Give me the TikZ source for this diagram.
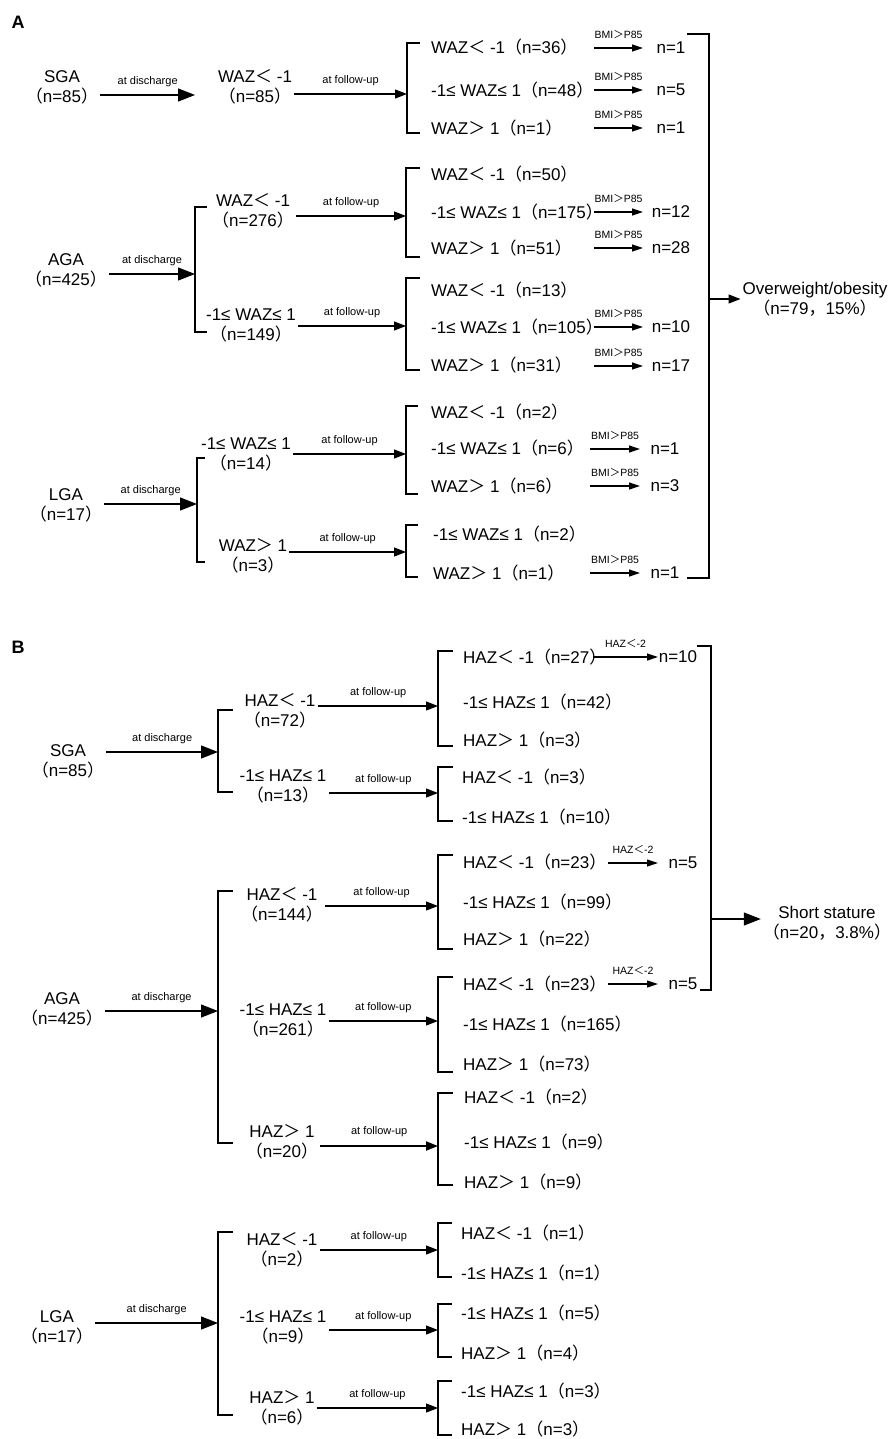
\documentclass[tikz,border=0pt]{standalone}
\usepackage{fontspec}
\setmainfont{Liberation Sans}
\newfontfamily\cjk{Noto Sans CJK SC}
\usetikzlibrary{arrows.meta}
\newcommand{\fwlp}{{\cjk （}}
\newcommand{\fwrp}{{\cjk ）}}
\newcommand{\fwlt}{{\cjk ＜}}
\newcommand{\fwgt}{{\cjk ＞}}
\newcommand{\fwcm}{{\cjk ，}}

\begin{document}
\begin{tikzpicture}[x=1pt,y=-1pt,
    txt/.style={font=\fontsize{17}{20}\selectfont,inner sep=2pt},
    grp/.style={txt,align=center},
    item/.style={txt,anchor=west},
    lab/.style={font=\fontsize{11}{13}\selectfont,inner sep=1pt,above=7pt},
    tiny/.style={font=\fontsize{10.5}{12}\selectfont,inner sep=1pt,above=8pt},
    dis/.style={line width=1.2pt,-{Triangle[length=17pt,width=13pt]}},
    fu/.style={line width=1.2pt,-{Triangle[length=12pt,width=9pt]}},
    sm/.style={line width=1.2pt,-{Triangle[length=11pt,width=7pt]}},
    br/.style={line width=1.2pt}]

        \useasboundingbox (0,0) rectangle (893,1439);

        % Columns
        \coordinate (bmiL) at (594,0);
        \coordinate (bmiR) at (643,0);
        \coordinate (bmiL2) at (590,0);
        \coordinate (bmiR2) at (640,0);
        \coordinate (hzL) at (593,0);
        \coordinate (hzM) at (608,0);
        \coordinate (hzR) at (658,0);

        % Panel A
        \node[font=\fontsize{18}{20}\selectfont\bfseries] (tagA) at (18,22) {A};

        % SGA
        \node[grp] (sgaA) at (62,87) {SGA\\\fwlp n=85\fwrp};
        \coordinate (dA1) at (195,95);
        \draw[dis] (sgaA.east |- dA1) -- node[lab] (ldA1) {at discharge} (dA1);
        \node[grp] (wazA1) at (255,87) {WAZ\fwlt{} -1\\\fwlp n=85\fwrp};
        \coordinate (bA1) at (407,94);
        \draw[fu] (wazA1.east |- bA1) -- node[lab] (lfA1) {at follow-up} (bA1);
        \draw[br] (420,43) -- (407,43) -- (407,133) -- (420,133);
        \node[item] (a11) at (429,47) {WAZ\fwlt{} -1\fwlp n=36\fwrp};
        \node[item] (a12) at (429,90) {-1≤ WAZ≤ 1\fwlp n=48\fwrp};
        \node[item] (a13) at (429,128) {WAZ\fwgt{} 1\fwlp n=1\fwrp};
        \node[txt] (nA11) at (671,48) {n=1};
        \node[txt] (nA12) at (671,90) {n=5};
        \node[txt] (nA13) at (671,128) {n=1};
        \draw[sm] (nA11 -| bmiL) -- node[tiny] (pA11) {BMI\fwgt P85} (nA11 -| bmiR);
        \draw[sm] (nA12 -| bmiL) -- node[tiny] (pA12) {BMI\fwgt P85} (nA12 -| bmiR);
        \draw[sm] (nA13 -| bmiL) -- node[tiny] (pA13) {BMI\fwgt P85} (nA13 -| bmiR);

        % AGA
        \node[grp] (agaA) at (66,270) {AGA\\\fwlp n=425\fwrp};
        \coordinate (dA2) at (195,274);
        \draw[dis] (agaA.east |- dA2) -- node[lab] (ldA2) {at discharge} (dA2);
        \draw[br] (207,207) -- (195,207) -- (195,332) -- (207,332);
        \node[grp] (wazA2) at (253,211) {WAZ\fwlt{} -1\\\fwlp n=276\fwrp};
        \coordinate (bA2) at (406,216);
        \draw[fu] (wazA2.east |- bA2) -- node[lab] (lfA2) {at follow-up} (bA2);
        \draw[br] (420,168) -- (406,168) -- (406,257) -- (420,257);
        \node[item] (a21) at (429,174) {WAZ\fwlt{} -1\fwlp n=50\fwrp};
        \node[item] (a22) at (429,212) {-1≤ WAZ≤ 1\fwlp n=175\fwrp};
        \node[item] (a23) at (429,248) {WAZ\fwgt{} 1\fwlp n=51\fwrp};
        \node[txt] (nA22) at (671,212) {n=12};
        \node[txt] (nA23) at (671,248) {n=28};
        \draw[sm] (nA22 -| bmiL) -- node[tiny] (pA22) {BMI\fwgt P85} (nA22 -| bmiR);
        \draw[sm] (nA23 -| bmiL) -- node[tiny] (pA23) {BMI\fwgt P85} (nA23 -| bmiR);

        \node[grp] (wazA3) at (251,325) {-1≤ WAZ≤ 1\\\fwlp n=149\fwrp};
        \coordinate (bA3) at (406,326);
        \draw[fu] (wazA3.east |- bA3) -- node[lab] (lfA3) {at follow-up} (bA3);
        \draw[br] (420,278) -- (406,278) -- (406,370) -- (420,370);
        \node[item] (a31) at (429,290) {WAZ\fwlt{} -1\fwlp n=13\fwrp};
        \node[item] (a32) at (429,327) {-1≤ WAZ≤ 1\fwlp n=105\fwrp};
        \node[item] (a33) at (429,365) {WAZ\fwgt{} 1\fwlp n=31\fwrp};
        \node[txt] (nA32) at (671,327) {n=10};
        \node[txt] (nA33) at (671,366) {n=17};
        \draw[sm] (nA32 -| bmiL) -- node[tiny] (pA32) {BMI\fwgt P85} (nA32 -| bmiR);
        \draw[sm] (nA33 -| bmiL) -- node[tiny] (pA33) {BMI\fwgt P85} (nA33 -| bmiR);

        % LGA
        \node[grp] (lgaA) at (66,505) {LGA\\\fwlp n=17\fwrp};
        \coordinate (dA3) at (197,504);
        \draw[dis] (lgaA.east |- dA3) -- node[lab] (ldA3) {at discharge} (dA3);
        \draw[br] (205,458) -- (197,458) -- (197,562) -- (205,562);
        \node[grp] (wazA4) at (246,454) {-1≤ WAZ≤ 1\\\fwlp n=14\fwrp};
        \coordinate (bA4) at (406,454);
        \draw[fu] (wazA4.east |- bA4) -- node[lab] (lfA4) {at follow-up} (bA4);
        \draw[br] (418,406) -- (406,406) -- (406,494) -- (418,494);
        \node[item] (a41) at (429,412) {WAZ\fwlt{} -1\fwlp n=2\fwrp};
        \node[item] (a42) at (429,448) {-1≤ WAZ≤ 1\fwlp n=6\fwrp};
        \node[item] (a43) at (429,486) {WAZ\fwgt{} 1\fwlp n=6\fwrp};
        \node[txt] (nA42) at (665,449) {n=1};
        \node[txt] (nA43) at (665,486) {n=3};
        \draw[sm] (nA42 -| bmiL2) -- node[tiny] (pA42) {BMI\fwgt P85} (nA42 -| bmiR2);
        \draw[sm] (nA43 -| bmiL2) -- node[tiny] (pA43) {BMI\fwgt P85} (nA43 -| bmiR2);

        \node[grp] (wazA5) at (253,556) {WAZ\fwgt{} 1\\\fwlp n=3\fwrp};
        \coordinate (bA5) at (406,552);
        \draw[fu] (wazA5.east |- bA5) -- node[lab] (lfA5) {at follow-up} (bA5);
        \draw[br] (418,525) -- (406,525) -- (406,577) -- (418,577);
        \node[item] (a51) at (431,534) {-1≤ WAZ≤ 1\fwlp n=2\fwrp};
        \node[item] (a52) at (431,573) {WAZ\fwgt{} 1\fwlp n=1\fwrp};
        \node[txt] (nA52) at (665,573) {n=1};
        \draw[sm] (nA52 -| bmiL2) -- node[tiny] (pA52) {BMI\fwgt P85} (nA52 -| bmiR2);

        % Overweight/obesity
        \draw[br] (687,34) -- (709,34) -- (709,578) -- (687,578);
        \coordinate (bigA) at (709,299);
        \node[grp] (ow) at (815,299) {Overweight/obesity\\\fwlp n=79\fwcm 15\%\fwrp};
        \draw[fu] (bigA) -- (ow.west |- bigA);

        % Panel B
        \node[font=\fontsize{18}{20}\selectfont\bfseries] (tagB) at (18,647) {B};

        % SGA
        \node[grp] (sgaB) at (68,761) {SGA\\\fwlp n=85\fwrp};
        \coordinate (dB1) at (218,752);
        \draw[dis] (sgaB.east |- dB1) -- node[lab] (ldB1) {at discharge} (dB1);
        \draw[br] (233,710) -- (218,710) -- (218,792) -- (233,792);
        \node[grp] (hB1) at (280,711) {HAZ\fwlt{} -1\\\fwlp n=72\fwrp};
        \coordinate (bB1) at (438,706);
        \draw[fu] (hB1.east |- bB1) -- node[lab] (lfB1) {at follow-up} (bB1);
        \node[grp] (hB2) at (283,786) {-1≤ HAZ≤ 1\\\fwlp n=13\fwrp};
        \coordinate (bB2) at (438,793);
        \draw[fu] (hB2.east |- bB2) -- node[lab] (lfB2) {at follow-up} (bB2);
        \draw[br] (453,651) -- (438,651) -- (438,746) -- (453,746);
        \node[item] (b11) at (461,657) {HAZ\fwlt{} -1\fwlp n=27\fwrp};
        \node[item] (b12) at (461,702) {-1≤ HAZ≤ 1\fwlp n=42\fwrp};
        \node[item] (b13) at (461,740) {HAZ\fwgt{} 1\fwlp n=3\fwrp};
        \node[txt] (nB11) at (678,657) {n=10};
        \draw[sm] (nB11 -| hzL) -- node[tiny] (qB11) {HAZ\fwlt-2} (nB11 -| hzR);
        \draw[br] (453,767) -- (438,767) -- (438,821) -- (453,821);
        \node[item] (b21) at (460,777) {HAZ\fwlt{} -1\fwlp n=3\fwrp};
        \node[item] (b22) at (460,817) {-1≤ HAZ≤ 1\fwlp n=10\fwrp};

        % AGA
        \node[grp] (agaB) at (62,1009) {AGA\\\fwlp n=425\fwrp};
        \coordinate (dB2) at (218,1011);
        \draw[dis] (agaB.east |- dB2) -- node[lab] (ldB2) {at discharge} (dB2);
        \draw[br] (233,891) -- (218,891) -- (218,1143) -- (233,1143);
        \node[grp] (hB3) at (282,905) {HAZ\fwlt{} -1\\\fwlp n=144\fwrp};
        \coordinate (bB3) at (438,906);
        \draw[fu] (hB3.east |- bB3) -- node[lab] (lfB3) {at follow-up} (bB3);
        \node[grp] (hB4) at (283,1020) {-1≤ HAZ≤ 1\\\fwlp n=261\fwrp};
        \coordinate (bB4) at (438,1021);
        \draw[fu] (hB4.east |- bB4) -- node[lab] (lfB4) {at follow-up} (bB4);
        \node[grp] (hB5) at (282,1142) {HAZ\fwgt{} 1\\\fwlp n=20\fwrp};
        \coordinate (bB5) at (438,1146);
        \draw[fu,line width=2pt] (hB5.east |- bB5) -- node[lab] (lfB5) {at follow-up} (bB5);

        \draw[br] (453,855) -- (438,855) -- (438,949) -- (453,949);
        \node[item] (c11) at (461,862) {HAZ\fwlt{} -1\fwlp n=23\fwrp};
        \node[item] (c12) at (461,902) {-1≤ HAZ≤ 1\fwlp n=99\fwrp};
        \node[item] (c13) at (461,939) {HAZ\fwgt{} 1\fwlp n=22\fwrp};
        \node[txt] (nC11) at (683,863) {n=5};
        \draw[sm] (nC11 -| hzM) -- node[tiny] (qC11) {HAZ\fwlt-2} (nC11 -| hzR);
        \draw[br] (453,977) -- (438,977) -- (438,1072) -- (453,1072);
        \node[item] (c21) at (461,984) {HAZ\fwlt{} -1\fwlp n=23\fwrp};
        \node[item] (c22) at (461,1024) {-1≤ HAZ≤ 1\fwlp n=165\fwrp};
        \node[item] (c23) at (461,1064) {HAZ\fwgt{} 1\fwlp n=73\fwrp};
        \node[txt] (nC21) at (683,984) {n=5};
        \draw[sm] (nC21 -| hzM) -- node[tiny] (qC21) {HAZ\fwlt-2} (nC21 -| hzR);
        \draw[br] (453,1093) -- (438,1093) -- (438,1185) -- (453,1185);
        \node[item] (c31) at (462,1097) {HAZ\fwlt{} -1\fwlp n=2\fwrp};
        \node[item] (c32) at (462,1142) {-1≤ HAZ≤ 1\fwlp n=9\fwrp};
        \node[item] (c33) at (462,1182) {HAZ\fwgt{} 1\fwlp n=9\fwrp};

        % LGA
        \node[grp] (lgaB) at (57,1327) {LGA\\\fwlp n=17\fwrp};
        \coordinate (dB3) at (218,1323);
        \draw[dis] (lgaB.east |- dB3) -- node[lab] (ldB3) {at discharge} (dB3);
        \draw[br] (233,1232) -- (218,1232) -- (218,1415) -- (233,1415);
        \node[grp] (hB6) at (282,1250) {HAZ\fwlt{} -1\\\fwlp n=2\fwrp};
        \coordinate (bB6) at (438,1250);
        \draw[fu] (hB6.east |- bB6) -- node[lab] (lfB6) {at follow-up} (bB6);
        \node[grp] (hB7) at (283,1327) {-1≤ HAZ≤ 1\\\fwlp n=9\fwrp};
        \coordinate (bB7) at (438,1330);
        \draw[fu] (hB7.east |- bB7) -- node[lab] (lfB7) {at follow-up} (bB7);
        \node[grp] (hB8) at (282,1408) {HAZ\fwgt{} 1\\\fwlp n=6\fwrp};
        \coordinate (bB8) at (438,1408);
        \draw[fu] (hB8.east |- bB8) -- node[lab] (lfB8) {at follow-up} (bB8);

        \draw[br] (452,1223) -- (438,1223) -- (438,1277) -- (452,1277);
        \node[item] (d11) at (459,1233) {HAZ\fwlt{} -1\fwlp n=1\fwrp};
        \node[item] (d12) at (459,1273) {-1≤ HAZ≤ 1\fwlp n=1\fwrp};
        \draw[br] (452,1304) -- (438,1304) -- (438,1357) -- (452,1357);
        \node[item] (d21) at (459,1313) {-1≤ HAZ≤ 1\fwlp n=5\fwrp};
        \node[item] (d22) at (459,1353) {HAZ\fwgt{} 1\fwlp n=4\fwrp};
        \draw[br] (452,1381) -- (438,1381) -- (438,1435) -- (452,1435);
        \node[item] (d31) at (459,1391) {-1≤ HAZ≤ 1\fwlp n=3\fwrp};
        \node[item] (d32) at (459,1429) {HAZ\fwgt{} 1\fwlp n=3\fwrp};

        % Short stature
        \draw[br] (697,646) -- (711,646) -- (711,990) -- (700,990);
        \coordinate (bigB) at (711,919);
        \node[grp] (ss) at (827,923) {Short stature\\\fwlp n=20\fwcm 3.8\%\fwrp};
        \draw[dis] (bigB) -- (ss.west |- bigB);
    \end{tikzpicture}
\end{document}
